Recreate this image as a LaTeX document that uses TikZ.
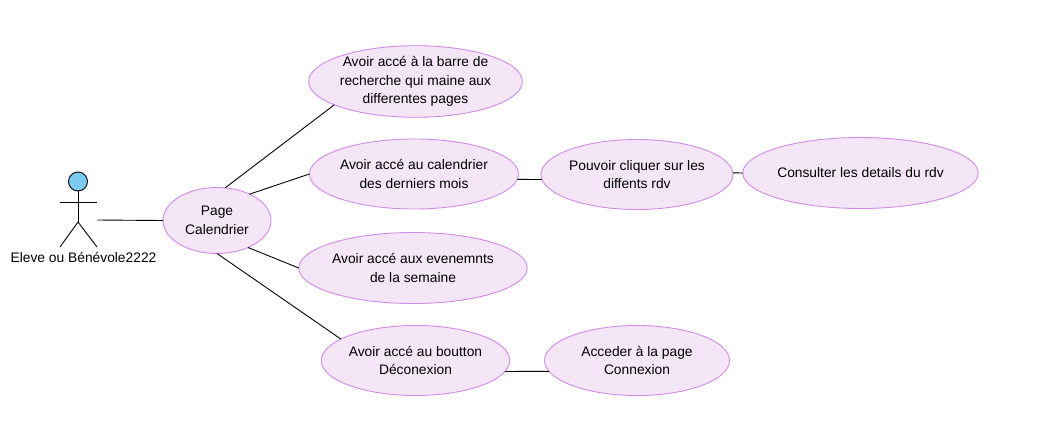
\documentclass[tikz,border=0pt]{standalone}
\usepackage{fontspec}
\setmainfont{Liberation Sans}
\usetikzlibrary{shapes.geometric}
\definecolor{ucfill}{HTML}{F4E6F7}
\definecolor{ucline}{HTML}{D08CE6}
\definecolor{actfill}{HTML}{7CCBF3}
\tikzset{x=1pt,y=-1pt,
 uc/.style={ellipse,draw=ucline,fill=ucfill,line width=0.9pt,inner sep=0pt,outer sep=0pt,align=center,font=\fontsize{13.8}{18.8}\selectfont,text=black},
 conn/.style={draw=black,line width=0.9pt},
 lbl/.style={font=\fontsize{13.8}{18.8}\selectfont,inner sep=0pt,text=black}}
\begin{document}
\begin{tikzpicture}
\useasboundingbox[fill=white] (0,0) rectangle (1043,421);
\node[uc,minimum width=108pt,minimum height=66pt] (page) at (217,220.5) {Page\\Calendrier};
\node[uc,minimum width=186pt,minimum height=70pt] (a1) at (415.5,81.5) {Avoir accé à la barre de\\recherche qui maine aux\\differentes pages};
\node[uc,minimum width=187pt,minimum height=70pt] (a2) at (414,174) {Avoir accé au calendrier\\des derniers mois};
\node[uc,minimum width=185pt,minimum height=71pt] (a3) at (413,268) {Avoir accé aux evenemnts\\de la semaine};
\node[uc,minimum width=186pt,minimum height=70pt] (a4) at (415.5,360.5) {Avoir accé au boutton\\Déconexion};
\node[uc,minimum width=185pt,minimum height=70pt] (b2) at (637,174.5) {Pouvoir cliquer sur les\\diffents rdv};
\node[uc,minimum width=186pt,minimum height=71pt] (c2) at (860.5,173) {Consulter les details du rdv};
\node[uc,minimum width=185pt,minimum height=70pt] (b4) at (637,360.5) {Acceder à la page\\Connexion};
% actor
\node[circle,draw=black,fill=actfill,line width=0.9pt,minimum size=19pt,inner sep=0pt,outer sep=0pt] (head) at (78,181.5) {};
\coordinate (hip) at (78,222);
\coordinate (armL) at (60,202);
\coordinate (armR) at (97,202);
\coordinate (legL) at (60,247);
\coordinate (legR) at (97,247);
\coordinate (actorR) at (97.5,220);
\draw[conn] (head.south) -- (hip);
\draw[conn] (armL) -- (armR);
\draw[conn] (legL) -- (hip) -- (legR);
\node[lbl] (actlbl) at (83.5,257) {Eleve ou Bénévole2222};
% connectors
\draw[conn] (actorR) -- (page.west);
\draw[conn] (page.76.6) -- (a1.196.3);
\draw[conn] (page.39.8) -- (a2.west);
\draw[conn] (page.-41.6) -- (a3.west);
\draw[conn] (page.south) -- (a4.164.8);
\draw[conn] (a2.-3.8) -- (b2.183.4);
\draw[conn] (b2.1) -- (c2.west);
\draw[conn] (a4.-7.4) -- (b4.187.1);
\end{tikzpicture}
\end{document}
